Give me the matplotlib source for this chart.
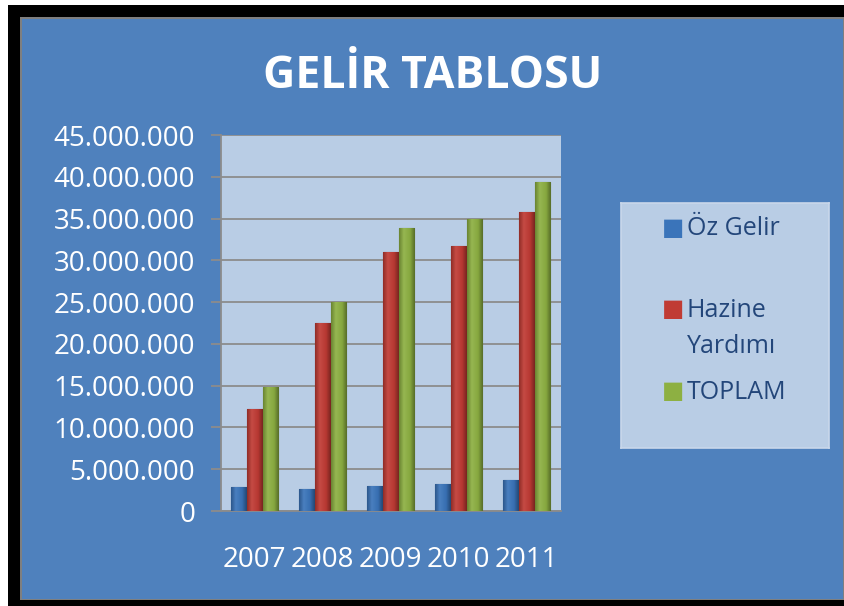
import numpy as np
import matplotlib as mpl
mpl.use('Agg')
import matplotlib.pyplot as plt
import matplotlib.ticker as ticker
from matplotlib.patches import Rectangle
from matplotlib.colors import LinearSegmentedColormap, to_rgb

# veriler
years = ['2007', '2008', '2009', '2010', '2011']
oz_gelir = [2.9e6, 2.6e6, 3.0e6, 3.2e6, 3.7e6]
hazine_yardimi = [12.2e6, 22.5e6, 31.05e6, 31.7e6, 35.8e6]
toplam = [14.85e6, 25.0e6, 33.9e6, 34.9e6, 39.4e6]

series_names = ['Öz Gelir', 'Hazine\nYardımı', 'TOPLAM']
series_colors = ['#3A74BA', '#C03B34', '#8DB042']

W, H = 845, 606
BLUE = '#4F81BD'
PLOT_BG = '#B9CDE5'
GRID = '#8C8C8C'
FONT = 'Open Sans'

fig = plt.figure(figsize=(W / 100, H / 100), dpi=100, facecolor='white')


def px_rect(x0, y0, x1, y1, color):
    # dikdortgen, piksel koordinatlari (sol ust kose orijin)
    fig.add_artist(Rectangle((x0 / W, 1 - y1 / H), (x1 - x0) / W, (y1 - y0) / H,
                             transform=fig.transFigure, color=color, lw=0, zorder=-10))


def shade(c, f):
    r, g, b = to_rgb(c)
    if f >= 1:
        return tuple(v + (1 - v) * (f - 1) for v in (r, g, b))
    return tuple(v * f for v in (r, g, b))


px_rect(8, 5, W, H, 'black')
px_rect(20, 17, W, 600, '#7F7F7F')
px_rect(22, 19, 843, 599, BLUE)

ax = fig.add_axes([220.7 / W, 1 - 511 / H, 340 / W, 376 / H])
ax.set_facecolor(PLOT_BG)

x = np.arange(len(years))
bw = 0.23
grad = np.linspace(0, 1, 64).reshape(1, -1)
for i, (vals, c) in enumerate(zip([oz_gelir, hazine_yardimi, toplam], series_colors)):
    bars = ax.bar(x + (i - 1) * bw, vals, width=bw, color=c,
                  edgecolor=shade(c, 0.6), linewidth=0.8, zorder=3)
    # 3B gorunumu icin yatay renk gecisi
    cmap = LinearSegmentedColormap.from_list(
        f'g{i}', [(0, shade(c, 0.75)), (0.3, shade(c, 1.08)),
                  (0.7, shade(c, 0.95)), (1, shade(c, 0.62))])
    for rect in bars:
        x0, y0 = rect.get_xy()
        im = ax.imshow(grad, extent=[x0, x0 + rect.get_width(), y0, y0 + rect.get_height()],
                       aspect='auto', cmap=cmap, zorder=3.2, interpolation='bilinear')
        im.set_clip_path(rect)

ax.set_xlim(-0.5, len(years) - 0.5)
ax.set_ylim(0, 45e6)
ax.set_aspect('auto')
ax.yaxis.set_major_locator(ticker.MultipleLocator(5e6))
ax.yaxis.set_major_formatter(ticker.FuncFormatter(
    lambda v, pos: f'{v:,.0f}'.replace(',', '.')))
ax.yaxis.grid(True, color=GRID, linewidth=1.3, zorder=0)
ax.set_axisbelow(True)

ax.set_xticks(x)
ax.set_xticklabels(years)
ax.tick_params(axis='x', length=0, pad=25, labelsize=20, labelcolor='white')
ax.tick_params(axis='y', length=7.5, width=1.3, color=GRID, pad=11,
               labelsize=20, labelcolor='white')
for lab in ax.get_xticklabels() + ax.get_yticklabels():
    lab.set_family(FONT)

for side in ['top', 'right']:
    ax.spines[side].set_visible(False)
for side in ['left', 'bottom']:
    ax.spines[side].set_color(GRID)
    ax.spines[side].set_linewidth(1.3)

fig.text(432.5 / W, 1 - 88 / H, 'GELİR TABLOSU', ha='center', va='baseline',
         fontsize=32, fontweight='bold', color='white', family=FONT)

# gosterge kutusu
lax = fig.add_axes([621 / W, 1 - 448 / H, 208 / W, 245 / H])
lax.set_facecolor(PLOT_BG)
lax.set_xticks([])
lax.set_yticks([])
for s in lax.spines.values():
    s.set_color('#C9D7EA')
    s.set_linewidth(1.2)

marker_y = [0.869, 0.537, 0.202]
text_y = [0.869, 0.386, 0.202]  # son satirin taban cizgisi
for name, c, ym, yt in zip(series_names, series_colors, marker_y, text_y):
    lax.text(0.195, ym + 0.002, '■', color=c, fontsize=17, va='baseline',
             ha='left', family='DejaVu Sans', transform=lax.transAxes)
    lax.text(0.317, yt, name, color='#23467A', fontsize=18, va='baseline',
             ha='left', family=FONT, linespacing=1.6, transform=lax.transAxes)

fig.savefig('out.png', dpi=100, facecolor=fig.get_facecolor())
plt.close(fig)
